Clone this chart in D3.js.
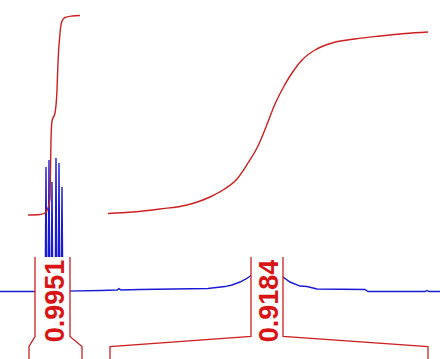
<!DOCTYPE html>
<meta charset="utf-8" />
<script src="https://d3js.org/d3.v7.min.js"></script>

<style>
  html, body {
    margin: 0;
    padding: 0;
    overflow: hidden;
    background: white;
  }
</style>

<div id="nmr"></div>

<script>
  var width = 440;
  var height = 359;

  // spectrum trace: [ppm, intensity]
  var spectrum = [
    [4.40, 0], [4.04, 0], [3.96, 0],
    [3.947, 10], [3.94, 93.3], [3.933, 10],
    [3.917, 10], [3.91, 98.5], [3.903, 10],
    [3.887, 10], [3.88, 82.0], [3.873, 10],
    [3.847, 10], [3.84, 100], [3.833, 10],
    [3.817, 10], [3.81, 96.3], [3.803, 10],
    [3.787, 10], [3.78, 78.3], [3.773, 10],
    [3.765, 0.4],
    [3.74, 0.3], [3.40, 0.7], [3.23, 1.1], [3.21, 2.2], [3.19, 1.1],
    [3.00, 1.5], [2.32, 2.2], [2.28, 2.6], [2.15, 3.7], [2.08, 4.9],
    [2.00, 7.1], [1.94, 9.4], [1.89, 12.0], [1.82, 19.9], [1.73, 25.3],
    [1.64, 19.9], [1.57, 10.9], [1.50, 7.1], [1.40, 4.1], [1.33, 3.7],
    [1.23, 1.9], [0.75, 1.5], [0.72, 0], [0.15, 0], [0.13, 0.8],
    [0.11, 0], [0.00, 0]
  ];

  // integral curves: [ppm, cumulative value]
  var integral1 = [
    [4.12, 0], [4.00, 0.0025], [3.95, 0.01], [3.92, 0.035], [3.90, 0.08],
    [3.895, 0.225], [3.89, 0.375], [3.88, 0.47], [3.85, 0.51], [3.83, 0.625],
    [3.82, 0.765], [3.80, 0.91], [3.78, 0.97], [3.75, 0.9875], [3.68, 0.995],
    [3.60, 0.9975]
  ];
  var integral2 = [
    [3.32, 0.0075], [3.07, 0.015], [2.80, 0.03], [2.53, 0.05], [2.30, 0.09],
    [2.17, 0.125], [2.03, 0.18], [1.92, 0.26], [1.82, 0.345], [1.74, 0.44],
    [1.65, 0.555], [1.57, 0.635], [1.48, 0.71], [1.38, 0.775], [1.25, 0.825],
    [1.08, 0.86], [0.85, 0.88], [0.60, 0.895], [0.35, 0.9075], [0.12, 0.915]
  ];

  // integral regions
  var regionStart = [4.11, 3.30];
  var regionEnd = [3.58, 0.12];
  var labelFrom = [4.05, 1.89];
  var labelTo = [3.70, 1.57];
  var labelText = ["0.9951", "0.9184"];

  var red = "#cc2020";
  var blue = "#1a1ad4";

  var svg = d3
    .select("#nmr")
    .append("svg")
    .attr("width", width)
    .attr("height", height);

  var x = d3.scaleLinear().domain([4.40, 0.00]).range([0, 440]);
  var y = d3.scaleLinear().domain([0, 100]).range([291.5, 158]);
  var yInt = d3.scaleLinear().domain([0, 1]).range([215, 15]);

  var specLine = d3
    .line()
    .x(function(d) { return x(d[0]); })
    .y(function(d) { return y(d[1]); });

  var intLine = d3
    .line()
    .curve(d3.curveMonotoneX)
    .x(function(d) { return x(d[0]); })
    .y(function(d) { return yInt(d[1]); });

  svg
    .append("path")
    .datum(spectrum)
    .attr("d", specLine)
    .attr("fill", "none")
    .attr("stroke", blue)
    .attr("stroke-width", 1.4);

  [integral1, integral2].forEach(function(curve) {
    svg
      .append("path")
      .datum(curve)
      .attr("d", intLine)
      .attr("fill", "none")
      .attr("stroke", red)
      .attr("stroke-width", 1.4);
  });

  var bracketTop = 257;
  var knee = 336.5;
  var foot = 346.5;
  var fontSize = 27;

  labelText.forEach(function(t, i) {
    var x0 = x(labelFrom[i]);
    var x1 = x(labelTo[i]);
    var g = svg.append("g");

    g.append("rect")
      .attr("x", x0)
      .attr("y", bracketTop)
      .attr("width", x1 - x0)
      .attr("height", height - bracketTop)
      .attr("fill", "white");

    var left = [
      [x(regionStart[i]), height],
      [x(regionStart[i]), foot],
      [x0, knee],
      [x0, bracketTop]
    ];
    var right = [
      [x1, bracketTop],
      [x1, knee],
      [x(regionEnd[i]), foot],
      [x(regionEnd[i]), height]
    ];
    [left, right].forEach(function(pts) {
      g.append("path")
        .attr("d", d3.line()(pts))
        .attr("fill", "none")
        .attr("stroke", red)
        .attr("stroke-width", 1.3);
    });

    var cx = (x0 + x1) / 2 + 1.5 + fontSize * 0.716 / 2;
    var cy = 301;
    g.append("text")
      .attr("transform", "translate(" + cx + "," + cy + ") rotate(-90)")
      .attr("text-anchor", "middle")
      .attr("font-family", "Liberation Sans, Arial, sans-serif")
      .attr("font-weight", "bold")
      .attr("font-size", fontSize)
      .attr("fill", "#d81414")
      .text(t);
  });
</script>
